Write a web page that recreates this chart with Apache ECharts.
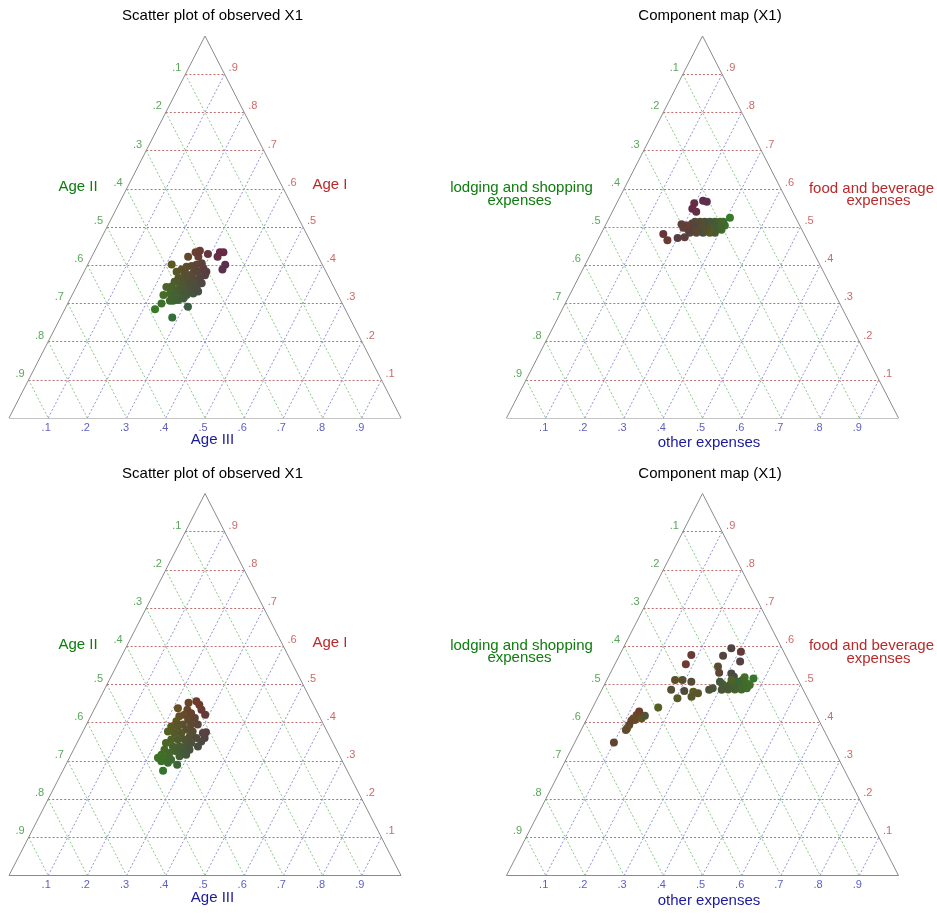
<!DOCTYPE html>
<html>
<head>
<meta charset="utf-8">
<script src="https://cdn.jsdelivr.net/npm/echarts@6/dist/echarts.min.js"></script>
<style>
html,body{margin:0;padding:0;background:#fff}
#chart{width:937px;height:914px}
</style>
</head>
<body>
<div id="chart"></div>
<script>
// Ternary tick values and their labels (same on every edge)
const tickValues = [0.1, 0.2, 0.3, 0.4, 0.5, 0.6, 0.7, 0.8, 0.9];
const tickLabels = ['.1', '.2', '.3', '.4', '.5', '.6', '.7', '.8', '.9'];

// Panel headings and edge names
const panelTitles = ['Scatter plot of observed X1', 'Component map (X1)', 'Scatter plot of observed X1', 'Component map (X1)'];
const ageNames = ['Age I', 'Age II', 'Age III'];
const expenseNamesTop = ['food and beverage', 'expenses'];
const expenseNamesLeft = ['lodging and shopping', 'expenses'];
const expenseNameBottom = 'other expenses';

// Group A: age composition of each observation (Age I, Age II, Age III)
const ageI_A   = [.434,.434,.422,.401,.389,.285,.300,.263,.322,.307,.307,.343,.326,.322,.309,.344,.335,.357,.313,.291,.326,.340,.353,.322,.366,.402,.383,.335,.355,.370,.326,.389,.340,.348,.357,.383,.366,.374,.331,.396,.344,.361,.379,.398,.422,.353,.366,.392,.383,.401,.374,.434,.392,.422,.405,.383,.438,.429];
const ageII_A  = [.245,.236,.257,.248,.261,.485,.461,.452,.445,.436,.428,.427,.426,.416,.414,.413,.405,.399,.399,.398,.396,.389,.388,.386,.385,.384,.381,.380,.374,.370,.367,.365,.364,.364,.360,.360,.360,.356,.352,.349,.349,.346,.341,.335,.332,.332,.330,.330,.326,.321,.313,.307,.308,.306,.306,.305,.294,.278];
const ageIII_A = [.321,.330,.321,.351,.350,.230,.239,.285,.233,.257,.265,.230,.248,.262,.277,.243,.260,.244,.288,.311,.278,.271,.259,.292,.249,.214,.236,.285,.271,.260,.307,.246,.296,.288,.283,.257,.274,.270,.317,.255,.307,.293,.280,.267,.246,.315,.304,.278,.291,.278,.313,.259,.300,.272,.289,.312,.268,.293];
// Group A: expense composition of the same observations
const food_A    = [.562,.548,.540,.569,.566,.524,.504,.514,.493,.509,.499,.514,.504,.509,.493,.499,.514,.485,.489,.504,.509,.493,.499,.514,.485,.489,.504,.509,.493,.499,.514,.489,.504,.485,.509,.493,.499,.514,.489,.504,.509,.485,.499,.514,.493,.504,.509,.489,.499,.485,.493,.504,.473,.498,.507,.471,.465,.482];
const lodging_A = [.240,.252,.246,.214,.206,.168,.191,.190,.205,.197,.204,.198,.208,.208,.218,.216,.211,.226,.227,.220,.221,.231,.229,.224,.239,.239,.233,.234,.243,.242,.237,.250,.246,.256,.246,.256,.255,.249,.265,.259,.259,.273,.267,.262,.273,.271,.272,.282,.282,.290,.290,.288,.309,.300,.300,.328,.357,.359];
const other_A   = [.198,.200,.214,.217,.228,.308,.305,.296,.302,.294,.297,.288,.288,.283,.289,.285,.275,.289,.284,.276,.270,.276,.272,.262,.276,.272,.263,.257,.264,.259,.249,.261,.250,.259,.245,.251,.246,.237,.246,.237,.232,.242,.234,.224,.234,.225,.219,.229,.219,.225,.217,.208,.218,.202,.193,.201,.178,.159];

// Group B: age composition of each observation
const ageI_B   = [.421,.375,.360,.373,.434,.447,.456,.452,.438,.434,.421,.425,.417,.408,.412,.404,.395,.395,.351,.338,.395,.382,.377,.364,.360,.390,.390,.373,.373,.377,.356,.274,.308,.299,.316,.308,.295,.329,.303,.321,.347,.290,.338,.312,.325,.356,.338,.325,.356,.316,.342,.329,.347];
const ageII_B  = [.289,.310,.321,.319,.292,.291,.294,.316,.350,.328,.342,.323,.357,.339,.320,.371,.338,.321,.334,.349,.359,.357,.343,.357,.342,.391,.374,.374,.391,.406,.374,.470,.466,.462,.453,.449,.447,.439,.435,.430,.426,.426,.413,.409,.411,.408,.396,.394,.391,.390,.377,.375,.362];
const ageIII_B = [.290,.315,.319,.308,.274,.262,.250,.232,.212,.238,.237,.252,.226,.253,.268,.225,.267,.284,.315,.313,.246,.261,.280,.279,.298,.219,.236,.253,.236,.217,.270,.256,.226,.239,.231,.243,.258,.232,.262,.249,.227,.284,.249,.279,.264,.236,.266,.281,.253,.294,.281,.296,.291];
// Group B: expense composition of the same observations
const food_B    = [.586,.560,.595,.575,.577,.553,.429,.420,.411,.405,.407,.394,.385,.381,.348,.411,.547,.531,.529,.520,.512,.512,.507,.486,.483,.481,.477,.468,.464,.440,.418,.516,.519,.503,.499,.490,.499,.512,.487,.493,.496,.507,.487,.493,.499,.512,.487,.494,.501,.507,.486,.490,.486];
const lodging_B = [.109,.124,.129,.160,.240,.266,.447,.458,.471,.479,.469,.490,.500,.505,.552,.450,.187,.192,.162,.160,.314,.295,.275,.337,.305,.283,.273,.294,.332,.393,.438,.112,.133,.136,.130,.142,.147,.142,.157,.158,.165,.156,.174,.175,.181,.170,.191,.191,.199,.202,.208,.229,.240];
const other_B   = [.305,.316,.276,.265,.183,.181,.124,.122,.118,.116,.124,.116,.115,.114,.100,.139,.266,.277,.309,.320,.174,.193,.218,.177,.212,.236,.250,.238,.204,.167,.144,.372,.348,.361,.371,.368,.354,.346,.356,.349,.339,.337,.339,.332,.320,.318,.322,.315,.300,.291,.306,.281,.274];

// ---- layout ----
const PANEL_W = 392, PANEL_H = 382;
const panels = [
  { left: 9,     top: 36 },
  { left: 506.5, top: 36 },
  { left: 9,     top: 493.5 },
  { left: 506.5, top: 493.5 }
];
const FONT = '"Liberation Sans", Arial, sans-serif';
const COL = {
  topText: '#bb2a2a', leftText: '#0d7d0d', bottomText: '#1a1a9c',
  topTick: '#c04444', leftTick: '#2f8f2f', bottomTick: '#3434b4',
  topGrid: '#c07070', leftGrid: '#8cc88c', bottomGrid: '#9292d8',
  frame: '#8a8a8a'
};

// top vertex = first part, bottom-left = second part, bottom-right = third part
function toXY(top, left, right) {
  const s = top + left + right;
  const a = top / s, c = right / s;
  return [c + a / 2, a];
}

function colorOf(a, b, c) {
  const f = v => Math.max(0, Math.min(255, Math.round(215 * v + 110 * (v - 1 / 3))));
  return 'rgb(' + f(a) + ',' + f(b) + ',' + f(c) + ')';
}

const grid = [], xAxis = [], yAxis = [], series = [], graphic = [];

function addPanel(idx, topVals, leftVals, rightVals) {
  const p = panels[idx];
  grid.push({ left: p.left, top: p.top, width: PANEL_W, height: PANEL_H, containLabel: false });
  xAxis.push({ gridIndex: idx, type: 'value', min: 0, max: 1, show: false });
  yAxis.push({ gridIndex: idx, type: 'value', min: 0, max: 1, show: false });
  const ax = { xAxisIndex: idx, yAxisIndex: idx };

  const gridFamily = (coordsFn, color) => ({
    type: 'lines', coordinateSystem: 'cartesian2d', ...ax, polyline: false, silent: true, z: 1,
    lineStyle: { color: color, width: 1, type: [2, 2], opacity: 1 },
    data: tickValues.map(v => ({ coords: coordsFn(v) }))
  });
  series.push(gridFamily(v => [toXY(v, 1 - v, 0), toXY(v, 0, 1 - v)], COL.topGrid));
  series.push(gridFamily(v => [toXY(1 - v, v, 0), toXY(0, v, 1 - v)], COL.leftGrid));
  series.push(gridFamily(v => [toXY(0, 1 - v, v), toXY(1 - v, 0, v)], COL.bottomGrid));

  // triangle frame
  const A = toXY(1, 0, 0), B = toXY(0, 1, 0), C = toXY(0, 0, 1);
  series.push({
    type: 'lines', coordinateSystem: 'cartesian2d', ...ax, polyline: false, silent: true, z: 2,
    lineStyle: { color: COL.frame, width: 1, type: 'solid', opacity: 1 },
    data: [{ coords: [A, B] }, { coords: [B, C] }, { coords: [C, A] }]
  });

  // tick labels on the three edges
  const tickSeries = (posFn, position, offset, color) => ({
    type: 'scatter', ...ax, symbolSize: 0, silent: true, clip: false, z: 3,
    data: tickValues.map((v, i) => ({ value: posFn(v), name: tickLabels[i] })),
    label: {
      show: true, position: position, distance: 4, offset: offset,
      formatter: d => d.name, color: color, fontSize: 11, fontFamily: FONT
    }
  });
  series.push(tickSeries(v => toXY(1 - v, v, 0), 'left', [0, -6], COL.leftTick));
  series.push(tickSeries(v => toXY(v, 0, 1 - v), 'right', [0, -6], COL.topTick));
  series.push(tickSeries(v => toXY(0, 1 - v, v), 'bottom', [-2, 0], COL.bottomTick));

  // observations, coloured by their age composition
  const colorSource = idx < 2 ? [ageI_A, ageII_A, ageIII_A] : [ageI_B, ageII_B, ageIII_B];
  series.push({
    type: 'scatter', ...ax, symbol: 'circle', symbolSize: 8, clip: false, z: 5,
    itemStyle: {
      opacity: 1,
      color: prm => {
        const k = prm.dataIndex;
        return colorOf(colorSource[0][k], colorSource[1][k], colorSource[2][k]);
      }
    },
    data: topVals.map((t, k) => toXY(t, leftVals[k], rightVals[k]))
  });
}

addPanel(0, ageI_A, ageII_A, ageIII_A);
addPanel(1, food_A, lodging_A, other_A);
addPanel(2, ageI_B, ageII_B, ageIII_B);
addPanel(3, food_B, lodging_B, other_B);

function text(x, y, str, color, size) {
  graphic.push({
    type: 'text', x: x, y: y, silent: true,
    style: { text: str, fill: color, fontSize: size, fontFamily: FONT, align: 'center', verticalAlign: 'middle' }
  });
}

panels.forEach((p, i) => {
  const L = p.left, T = p.top;
  text(L + 203.5, T - 20, panelTitles[i], '#000', 15);
  if (i % 2 === 0) {
    text(L + 321, T + 149, ageNames[0], COL.topText, 15);
    text(L + 69, T + 151, ageNames[1], COL.leftText, 15);
    text(L + 203.5, T + 404, ageNames[2], COL.bottomText, 15);
  } else {
    text(L + 365, T + 152.5, expenseNamesTop[0], COL.topText, 15);
    text(L + 372, T + 165, expenseNamesTop[1], COL.topText, 15);
    text(L + 15, T + 152, expenseNamesLeft[0], COL.leftText, 15);
    text(L + 13, T + 164.5, expenseNamesLeft[1], COL.leftText, 15);
    text(L + 202.5, T + 407, expenseNameBottom, COL.bottomText, 15);
  }
});

const chart = echarts.init(document.getElementById('chart'), null, { renderer: 'canvas' });
chart.setOption({
  animation: false,
  backgroundColor: '#fff',
  grid: grid, xAxis: xAxis, yAxis: yAxis,
  series: series,
  graphic: graphic
});
</script>
</body>
</html>
